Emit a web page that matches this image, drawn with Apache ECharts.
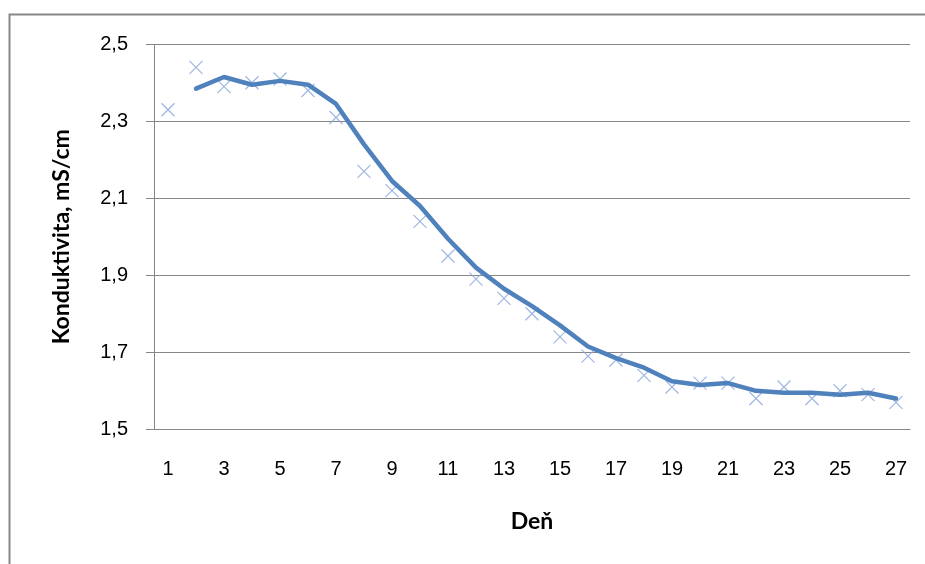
<!DOCTYPE html>
<html>
<head>
<meta charset="utf-8">
<style>
  html, body { margin: 0; padding: 0; background: #ffffff; }
  #chart { width: 925px; height: 564px; }
</style>
<script src="https://cdn.jsdelivr.net/npm/echarts@6/dist/echarts.min.js"></script>
</head>
<body>
<div id="chart"></div>
<script>
// Days of measurement
const days = ['1','2','3','4','5','6','7','8','9','10','11','12','13','14','15','16','17','18','19','20','21','22','23','24','25','26','27'];

// Measured conductivity, mS/cm
const conductivity = [2.33, 2.44, 2.39, 2.40, 2.41, 2.38, 2.31, 2.17, 2.12, 2.04, 1.95, 1.89, 1.84, 1.80, 1.74,
                      1.69, 1.68, 1.64, 1.61, 1.62, 1.62, 1.58, 1.61, 1.58, 1.60, 1.59, 1.57];

// Two-day moving-average trend line (no value for day 1)
const trend = [null, 2.385, 2.415, 2.395, 2.405, 2.395, 2.345, 2.24, 2.145, 2.08, 1.995, 1.92, 1.865, 1.82, 1.77,
               1.715, 1.685, 1.66, 1.625, 1.615, 1.62, 1.60, 1.595, 1.595, 1.59, 1.595, 1.58];

const yTicks = { min: 1.5, max: 2.5, step: 0.2 };
const xTitle = 'Deň';
const yTitle = 'Konduktivita, mS/cm';

const gray = '#878787';
const tickFont = 'Liberation Sans, Arial, sans-serif';
const titleFont = 'Lato, Liberation Sans, sans-serif';

const chart = echarts.init(document.getElementById('chart'), null, { renderer: 'canvas' });

chart.setOption({
  animation: false,
  backgroundColor: '#ffffff',
  graphic: [{
    type: 'rect',
    shape: { x: 9.5, y: 14.5, width: 940, height: 600 },
    style: { fill: 'none', stroke: gray, lineWidth: 2 },
    silent: true,
    z: -10
  }],
  grid: {
    left: 154, right: 15, top: 44.3, bottom: 134.7,
    outerBoundsMode: 'none'
  },
  xAxis: {
    type: 'category',
    data: days,
    boundaryGap: true,
    name: xTitle,
    nameLocation: 'middle',
    nameGap: 81,
    nameTextStyle: { fontFamily: titleFont, fontWeight: 'bold', fontSize: 23, color: '#000' },
    axisLine: { lineStyle: { color: gray, width: 1 } },
    axisTick: { show: false },
    axisLabel: { interval: 1, margin: 30, fontFamily: tickFont, fontSize: 20, color: '#000' },
    splitLine: { show: false }
  },
  yAxis: {
    type: 'value',
    min: yTicks.min,
    max: yTicks.max,
    interval: yTicks.step,
    name: yTitle,
    nameLocation: 'middle',
    nameGap: 81,
    nameRotate: 90,
    nameTextStyle: { fontFamily: titleFont, fontWeight: 'bold', fontSize: 23, color: '#000' },
    axisLine: { show: true, lineStyle: { color: gray, width: 1 } },
    axisTick: { show: true, inside: false, length: 8, lineStyle: { color: gray, width: 1 } },
    axisLabel: {
      margin: 26, fontFamily: tickFont, fontSize: 20, color: '#000',
      formatter: v => v.toFixed(1).replace('.', ',')
    },
    splitLine: { show: true, lineStyle: { color: gray, width: 1 } }
  },
  series: [
    {
      name: 'trend',
      type: 'line',
      data: trend,
      showSymbol: false,
      symbol: 'none',
      connectNulls: false,
      lineStyle: { color: '#4f81bd', width: 4.5, cap: 'round', join: 'round' },
      z: 3
    },
    {
      name: 'conductivity',
      type: 'scatter',
      data: conductivity,
      symbol: 'path://M0,0L10,10M10,0L0,10',
      symbolSize: 13,
      itemStyle: { color: 'transparent', borderColor: '#88a8dc', borderWidth: 1.3 },
      z: 2
    }
  ]
});
</script>
</body>
</html>
